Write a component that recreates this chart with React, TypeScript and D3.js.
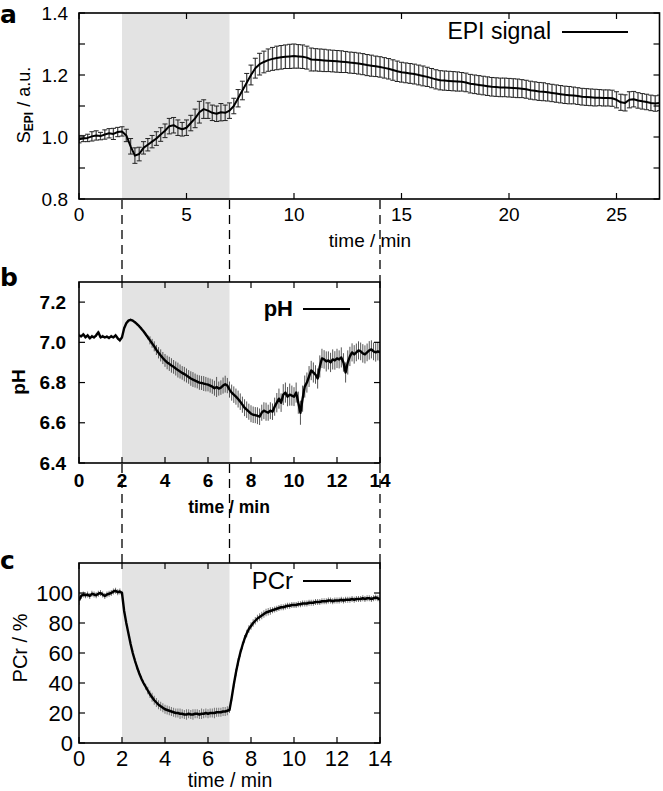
import React from 'react';
import * as d3 from 'd3';

const FONT = "'Liberation Sans', Arial, Helvetica, sans-serif";

// ---------- data ----------
// EPI signal, sampled every 0.2 min from 0 to 27 min
const epiDt = 0.2;
const epiMean = [
  0.993, 0.995, 0.997, 1.002, 1.005, 1.003, 1.008, 1.012, 1.010, 1.016,
  1.018, 1.005, 0.970, 0.940, 0.945, 0.965,
  0.975, 0.985, 0.995, 1.008, 1.020, 1.035, 1.038, 1.030, 1.025, 1.030,
  1.045, 1.060, 1.080, 1.090, 1.085, 1.078, 1.075, 1.080, 1.078, 1.085,
  1.100, 1.125, 1.150, 1.175, 1.200, 1.222, 1.235, 1.242, 1.248,
  1.252, 1.255, 1.257, 1.259, 1.260, 1.261, 1.260, 1.259, 1.256, 1.250,
  1.249, 1.248, 1.247, 1.246, 1.245, 1.244, 1.243, 1.242, 1.240, 1.239, 1.237,
  1.235, 1.232, 1.230, 1.228, 1.226, 1.223, 1.220, 1.216, 1.212, 1.209,
  1.207, 1.205, 1.203, 1.200, 1.197, 1.194, 1.190, 1.186, 1.183, 1.182,
  1.181, 1.180, 1.179, 1.178, 1.176, 1.172, 1.170, 1.168, 1.166, 1.164,
  1.162, 1.161, 1.160, 1.160, 1.159,
  1.158, 1.157, 1.156, 1.154, 1.151, 1.149, 1.147, 1.146, 1.144, 1.142,
  1.140, 1.138, 1.136, 1.135, 1.134, 1.132, 1.130, 1.129, 1.128, 1.127,
  1.127, 1.126, 1.126, 1.125, 1.120, 1.112, 1.110, 1.120, 1.122, 1.118,
  1.115, 1.113, 1.110, 1.108, 1.110,
];
const epiErr = [
  0.012, 0.010, 0.012, 0.015, 0.015, 0.012, 0.015, 0.015, 0.018, 0.015,
  0.015, 0.020, 0.025, 0.025, 0.022, 0.020,
  0.020, 0.020, 0.022, 0.022, 0.022, 0.025, 0.025, 0.025, 0.022, 0.025,
  0.025, 0.030, 0.035, 0.030, 0.025, 0.025, 0.025, 0.028, 0.025, 0.025,
  0.025, 0.028, 0.030, 0.030, 0.032, 0.032, 0.035, 0.035, 0.036,
  0.037, 0.038, 0.038, 0.038, 0.039, 0.039, 0.038, 0.038, 0.037, 0.037,
  0.036, 0.036, 0.036, 0.035, 0.035, 0.035, 0.035, 0.034, 0.034, 0.034, 0.034,
  0.034, 0.034, 0.034, 0.033, 0.033, 0.033, 0.033, 0.033, 0.033, 0.032,
  0.032, 0.032, 0.032, 0.032, 0.032, 0.031, 0.031, 0.031, 0.031, 0.031,
  0.031, 0.031, 0.031, 0.030, 0.030, 0.030, 0.030, 0.030, 0.030, 0.030,
  0.030, 0.030, 0.030, 0.030, 0.030,
  0.030, 0.030, 0.029, 0.029, 0.029, 0.029, 0.029, 0.029, 0.028, 0.028,
  0.028, 0.028, 0.028, 0.028, 0.027, 0.027, 0.027, 0.027, 0.027, 0.027,
  0.026, 0.026, 0.026, 0.026, 0.026, 0.026, 0.026, 0.026, 0.025, 0.025,
  0.025, 0.025, 0.025, 0.025, 0.025,
];

// pH, sampled every 0.1 min from 0 to 14 min
const phDt = 0.1;
const phMean = [
  7.035, 7.030, 7.040, 7.025, 7.035, 7.020, 7.030, 7.025, 7.035, 7.050,
  7.025, 7.030, 7.025, 7.028, 7.022, 7.030, 7.025, 7.035, 7.020, 7.010,
  7.025, 7.070, 7.095, 7.108, 7.112, 7.108, 7.100, 7.090, 7.080, 7.068,
  7.055, 7.040, 7.025, 7.010, 6.995, 6.980, 6.962, 6.948, 6.935, 6.922,
  6.910, 6.900, 6.893, 6.885, 6.878, 6.870, 6.862, 6.855, 6.848, 6.842,
  6.835, 6.828, 6.820, 6.815, 6.810, 6.805, 6.800, 6.798, 6.795, 6.792,
  6.790, 6.785, 6.780, 6.772, 6.778, 6.770, 6.775, 6.785, 6.792, 6.785,
  6.765, 6.750, 6.740, 6.730, 6.718, 6.705, 6.690, 6.675, 6.665, 6.655,
  6.645, 6.640, 6.638, 6.635, 6.630, 6.650, 6.660, 6.655, 6.650, 6.660,
  6.655, 6.680, 6.700, 6.720, 6.700, 6.740, 6.750, 6.730, 6.740, 6.735,
  6.730, 6.750, 6.700, 6.650, 6.720, 6.780, 6.800, 6.830, 6.860, 6.850,
  6.840, 6.820, 6.880, 6.920, 6.915, 6.905, 6.910, 6.900, 6.915, 6.910,
  6.920, 6.915, 6.925, 6.900, 6.850, 6.900, 6.930, 6.950, 6.940, 6.950,
  6.960, 6.955, 6.945, 6.940, 6.950, 6.960, 6.965, 6.955, 6.950, 6.955,
  6.950,
];
const phErr = [
  0.008, 0.006, 0.008, 0.007, 0.008, 0.006, 0.008, 0.007, 0.008, 0.009,
  0.007, 0.008, 0.006, 0.008, 0.007, 0.008, 0.006, 0.008, 0.007, 0.009,
  0.005, 0.005, 0.005, 0.005, 0.005, 0.005, 0.005, 0.005, 0.005, 0.005,
  0.006, 0.008, 0.010,
  0.020, 0.022, 0.025, 0.025, 0.028, 0.030, 0.030, 0.032,
  0.034, 0.035, 0.036, 0.034, 0.035, 0.037, 0.035, 0.034, 0.036, 0.035,
  0.034, 0.036, 0.037, 0.035, 0.034, 0.036, 0.035, 0.037, 0.036, 0.034,
  0.035, 0.036, 0.037, 0.050, 0.035, 0.036, 0.040, 0.042, 0.038, 0.040,
  0.040, 0.041, 0.040, 0.042, 0.041, 0.040, 0.042, 0.041, 0.040, 0.042,
  0.041, 0.040, 0.042, 0.041, 0.040, 0.042, 0.045, 0.040, 0.042, 0.041,
  0.045, 0.048, 0.050, 0.046, 0.052, 0.050, 0.048, 0.055, 0.050, 0.047,
  0.050, 0.055, 0.060, 0.065, 0.055, 0.050, 0.052, 0.048, 0.050, 0.046,
  0.050, 0.055, 0.048, 0.046, 0.050, 0.045, 0.048, 0.050, 0.046, 0.048,
  0.045, 0.050, 0.046, 0.050, 0.060, 0.048, 0.045, 0.046, 0.044, 0.045,
  0.044, 0.046, 0.045, 0.044, 0.046, 0.045, 0.044, 0.046, 0.045, 0.044,
];

// PCr, sampled every 0.1 min from 0 to 14 min
const pcrDt = 0.1;
const pcrMean = [
  95, 98, 99, 98.5, 99, 98, 99.5, 99, 98.5, 99.5,
  100, 99, 98, 99, 99.5, 100, 101, 101.5, 100.5, 101,
  100, 88, 80, 73, 66, 60, 55, 50.5, 46.5, 43,
  40, 37.5, 35, 32.5, 30.5, 28.5, 27, 25.5, 24.5, 23.5,
  22.5, 22, 21.5, 21, 20.5, 20, 20, 19.5, 19.5, 19,
  19, 19.5, 19, 19, 19.5, 19.5, 19, 19.5, 19.5, 20,
  19.5, 20, 20, 20, 20.5, 20.5, 20.5, 21, 21, 21.5,
  22, 30, 39, 47, 54, 60, 65, 69.5, 73, 76,
  78, 80, 81.5, 83, 84, 85, 86, 87, 87.5, 88,
  88.5, 89, 89.5, 90, 90.5, 90.5, 91, 91.5, 91.5, 92,
  92, 92, 92.5, 92.5, 93, 93, 93, 93.5, 93.5, 93.5,
  94, 94, 94, 94.5, 94.5, 94.5, 95, 95, 94.5, 95,
  95, 95, 95.5, 95, 95.5, 95.5, 95.5, 96, 95.5, 96,
  96, 96, 96.5, 96, 96.5, 96.5, 96, 96.5, 97, 96.5,
  95.5,
];
const pcrErr = [
  3, 2, 2, 2, 2, 2, 2, 2, 2, 2,
  2, 2, 2, 2, 2, 2, 2, 2, 2, 2,
  1.5, 1.5, 1.5, 1.5, 1.5, 1.5, 1.5, 1.5, 1.5, 1.5,
  1.5, 2, 2.5, 2.5, 3, 3, 3, 3, 3, 3,
  3, 3, 3, 3, 3, 3, 3, 3.5, 3, 3,
  3.5, 3, 3, 3.5, 3, 3, 3, 3.5, 3, 3,
  3, 3, 3, 3.5, 3, 3, 3, 3, 3, 3,
  2, 2, 2, 2.5, 2.5, 2.5, 2.5, 2.5, 2.5, 2.5,
  2.5, 2.5, 2.5, 2.5, 2.5, 2.5, 2.5, 2.5, 2.5, 2.5,
  2, 2, 2, 2, 2, 2, 2, 2, 2, 2,
  2, 2, 2, 2, 2, 2, 2, 2, 2, 2,
  2, 2, 2, 2, 2, 2, 2, 2, 2, 2,
  2, 2, 2, 2, 2, 2, 2, 2, 2, 2,
  2, 2, 2, 2, 2, 2, 2, 2, 2, 2,
  2,
];

const stimStart = 2;
const stimEnd = 7;
const guideTimes = [2, 7, 14];

const epiYTicks = [0.8, 0.9, 1.0, 1.1, 1.2, 1.3, 1.4];
const epiYLabels = ['0.8', '1.0', '1.2', '1.4'];
const epiXTicks = [0, 5, 10, 15, 20, 25];
const phYTicks = [6.4, 6.6, 6.8, 7.0, 7.2];
const phYLabels = ['6.4', '6.6', '6.8', '7.0', '7.2'];
const shortXTicks = [0, 2, 4, 6, 8, 10, 12, 14];
const pcrYTicks = [0, 20, 40, 60, 80, 100];
const pcrYLabels = ['0', '20', '40', '60', '80', '100'];

type PanelCfg = {
  id: string;
  left: number; right: number; top: number; bottom: number;
  xMax: number; yMin: number; yMax: number;
  xTicks: number[]; yTicks: number[]; yLabels: string[];
  values: number[]; errs: number[]; dt: number;
  cap: number; lineW: number; errColor: string; errW: number;
  tickSize: number; tickWeight: string; yLabelRight: number; xLabelY: number;
  xTitle: { x: number; y: number; size: number; weight: string };
  legend: { text: string; textRight: number; y: number; size: number; weight: string; x1: number; x2: number };
};

function Panel({ c }: { c: PanelCfg }) {
  const x = d3.scaleLinear().domain([0, c.xMax]).range([c.left, c.right]);
  const y = d3.scaleLinear().domain([c.yMin, c.yMax]).range([c.bottom, c.top]);
  const pts = c.values.map((v, i) => ({ t: i * c.dt, v, e: c.errs[i] }));
  const line = d3.line<{ t: number; v: number }>().x(d => x(d.t)).y(d => y(d.v));
  const TL = 6;
  return (
    <g>
      <defs>
        <clipPath id={`clip-${c.id}`}>
          <rect x={c.left} y={c.top} width={c.right - c.left} height={c.bottom - c.top} />
        </clipPath>
      </defs>
      <rect x={c.left} y={c.top} width={c.right - c.left} height={c.bottom - c.top} fill="#fff" />
      <rect x={x(stimStart)} y={c.top} width={x(stimEnd) - x(stimStart)} height={c.bottom - c.top} fill="#e3e3e3" />
      <g clipPath={`url(#clip-${c.id})`}>
        {pts.map((p, i) => (
          <g key={i} stroke={c.errColor} strokeWidth={c.errW}>
            <line x1={x(p.t)} x2={x(p.t)} y1={y(p.v - p.e)} y2={y(p.v + p.e)} />
            {c.cap > 0 && (
              <>
                <line x1={x(p.t) - c.cap} x2={x(p.t) + c.cap} y1={y(p.v - p.e)} y2={y(p.v - p.e)} stroke="#222" strokeWidth={1} />
                <line x1={x(p.t) - c.cap} x2={x(p.t) + c.cap} y1={y(p.v + p.e)} y2={y(p.v + p.e)} stroke="#222" strokeWidth={1} />
              </>
            )}
          </g>
        ))}
        <path d={line(pts) || ''} fill="none" stroke="#000" strokeWidth={c.lineW} strokeLinejoin="round" />
      </g>
      {/* ticks */}
      <g stroke="#000" strokeWidth={1.2}>
        {c.xTicks.map(t => (
          <g key={'xt' + t}>
            <line x1={x(t)} x2={x(t)} y1={c.bottom} y2={c.bottom - TL} />
            <line x1={x(t)} x2={x(t)} y1={c.top} y2={c.top + TL} />
          </g>
        ))}
        {c.yTicks.map(t => (
          <g key={'yt' + t}>
            <line x1={c.left} x2={c.left + TL} y1={y(t)} y2={y(t)} />
            <line x1={c.right} x2={c.right - TL} y1={y(t)} y2={y(t)} />
          </g>
        ))}
      </g>
      <rect x={c.left} y={c.top} width={c.right - c.left} height={c.bottom - c.top} fill="none" stroke="#000" strokeWidth={1.6} />
      {/* tick labels */}
      <g fontFamily={FONT} fontSize={c.tickSize} fontWeight={c.tickWeight} fill="#000">
        {c.xTicks.map(t => (
          <text key={'xl' + t} x={x(t)} y={c.xLabelY} textAnchor="middle" dominantBaseline="central">{String(t)}</text>
        ))}
        {c.yLabels.map(l => (
          <text key={'yl' + l} x={c.yLabelRight} y={y(+l)} textAnchor="end" dominantBaseline="central">{l}</text>
        ))}
      </g>
      <text x={c.xTitle.x} y={c.xTitle.y} textAnchor="middle" dominantBaseline="central" fontFamily={FONT}
        fontSize={c.xTitle.size} fontWeight={c.xTitle.weight}>time / min</text>
      {/* legend */}
      <text x={c.legend.textRight} y={c.legend.y} textAnchor="end" dominantBaseline="central" fontFamily={FONT}
        fontSize={c.legend.size} fontWeight={c.legend.weight}>{c.legend.text}</text>
      <line x1={c.legend.x1} x2={c.legend.x2} y1={c.legend.y + 1} y2={c.legend.y + 1} stroke="#000" strokeWidth={2} />
    </g>
  );
}

export default function App() {
  const xs = d3.scaleLinear().domain([0, 14]).range([79, 380]);
  const panels: PanelCfg[] = [
    {
      id: 'a', left: 79, right: 659.5, top: 13, bottom: 199, xMax: 27, yMin: 0.8, yMax: 1.4,
      xTicks: epiXTicks, yTicks: epiYTicks, yLabels: epiYLabels,
      values: epiMean, errs: epiErr, dt: epiDt, cap: 2.5, lineW: 2, errColor: '#4a4a4a', errW: 1.3,
      tickSize: 19, tickWeight: 'normal', yLabelRight: 68, xLabelY: 214,
      xTitle: { x: 370, y: 240, size: 19, weight: 'normal' },
      legend: { text: 'EPI signal', textRight: 551, y: 31, size: 23, weight: 'normal', x1: 562, x2: 628 },
    },
    {
      id: 'b', left: 79, right: 380, top: 282, bottom: 463, xMax: 14, yMin: 6.4, yMax: 7.3,
      xTicks: shortXTicks, yTicks: phYTicks, yLabels: phYLabels,
      values: phMean, errs: phErr, dt: phDt, cap: 0, lineW: 2.4, errColor: '#555', errW: 1,
      tickSize: 19, tickWeight: 'bold', yLabelRight: 66, xLabelY: 480,
      xTitle: { x: 229, y: 507, size: 17.5, weight: 'bold' },
      legend: { text: 'pH', textRight: 293, y: 308, size: 22, weight: 'bold', x1: 303, x2: 350 },
    },
    {
      id: 'c', left: 79, right: 380, top: 563, bottom: 743, xMax: 14, yMin: 0, yMax: 120,
      xTicks: shortXTicks, yTicks: pcrYTicks, yLabels: pcrYLabels,
      values: pcrMean, errs: pcrErr, dt: pcrDt, cap: 0, lineW: 2.4, errColor: '#777', errW: 1,
      tickSize: 22, tickWeight: 'normal', yLabelRight: 73, xLabelY: 758,
      xTitle: { x: 230, y: 780, size: 19.5, weight: 'normal' },
      legend: { text: 'PCr', textRight: 293, y: 580, size: 24, weight: 'normal', x1: 303, x2: 351 },
    },
  ];
  return (
    <svg width={663} height={791} style={{ position: 'absolute', left: 0, top: 0, background: '#fff' }}>
      <rect x={0} y={0} width={663} height={791} fill="#fff" />
      {/* guide lines between panels */}
      <g stroke="#000" strokeWidth={1.3} strokeDasharray="9,6">
        {guideTimes.map(t => (
          <g key={t}>
            <line x1={xs(t)} x2={xs(t)} y1={200} y2={282} />
            <line x1={xs(t)} x2={xs(t)} y1={464} y2={563} />
          </g>
        ))}
      </g>
      {panels.map(p => <Panel key={p.id} c={p} />)}
      {/* panel letters */}
      <g fontFamily="'DejaVu Sans', sans-serif" fontWeight="bold" fontSize={25}>
        <text x={0} y={23}>a</text>
        <text x={0} y={286}>b</text>
        <text x={0} y={569}>c</text>
      </g>
      {/* y-axis titles */}
      <text transform="translate(24,105) rotate(-90)" textAnchor="middle" dominantBaseline="central" fontFamily={FONT} fontSize={18}>
        <tspan>S</tspan>
        <tspan fontSize={12} fontWeight="bold" dy={5}>EPI</tspan>
        <tspan dy={-5}> / a.u.</tspan>
      </text>
      <text transform="translate(18,382) rotate(-90)" textAnchor="middle" dominantBaseline="central" fontFamily={FONT} fontSize={19} fontWeight="bold">pH</text>
      <text transform="translate(20,648) rotate(-90)" textAnchor="middle" dominantBaseline="central" fontFamily={FONT} fontSize={20}>PCr / %</text>
    </svg>
  );
}
